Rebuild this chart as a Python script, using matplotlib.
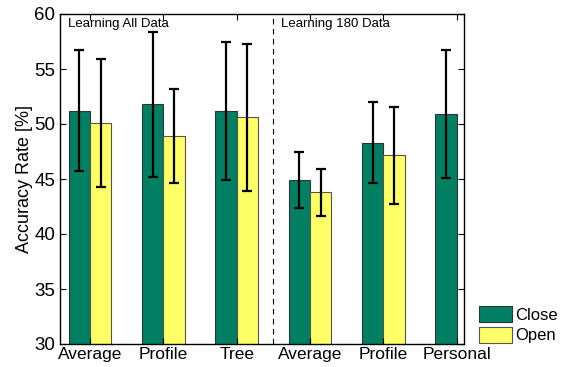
import matplotlib
matplotlib.use("Agg")
import matplotlib.pyplot as plt
import numpy as np

plt.rcParams['font.family'] = ['Liberation Sans', 'DejaVu Sans']

categories = ["Average", "Profile", "Tree", "Average", "Profile", "Personal"]
close_vals = [51.2, 51.8, 51.2, 44.9, 48.3, 50.9]
close_err = [5.5, 6.6, 6.3, 2.55, 3.7, 5.85]
open_vals = [50.1, 48.9, 50.6, 43.8, 47.15, 0]
open_err = [5.8, 4.3, 6.7, 2.15, 4.4, 0]
series_names = ["Close", "Open"]
group_labels = ["Learning All Data", "Learning 180 Data"]

green = "#007F62"
yellow = "#FFFF66"

fig = plt.figure(figsize=(5.63, 3.67), dpi=100)
ax = fig.add_axes([60/563, 23/367, 404/563, 330/367])

x = np.arange(1, len(categories) + 1)
w = 0.29
n_open = 5
b1 = ax.bar(x - w/2, close_vals, w, color=green, edgecolor="#333333", linewidth=0.8, label=series_names[0])
b2 = ax.bar(x[:n_open] + w/2, open_vals[:n_open], w, color=yellow, edgecolor="#555555", linewidth=0.8, label=series_names[1])
ax.errorbar(x - w/2, close_vals, yerr=close_err, fmt='none', ecolor='black', elinewidth=1.6, capsize=3.5, capthick=1.6)
ax.errorbar(x[:n_open] + w/2, open_vals[:n_open], yerr=open_err[:n_open], fmt='none', ecolor='black', elinewidth=1.6, capsize=3.5, capthick=1.6)

ax.axvline(3.5, color='black', linestyle=(0, (5, 4)), linewidth=0.8)

ax.set_xlim(0.59, 6.1)
ax.set_ylim(30, 60)
ax.set_xticks(x)
ax.set_xticklabels(categories, fontsize=12.5)
ax.set_yticks(np.arange(30, 61, 5))
ax.tick_params(axis='y', labelsize=13.5)
ax.tick_params(direction='in', top=True, right=True, length=4, width=0.8)
ax.tick_params(axis='x', pad=2)
ax.set_ylabel("Accuracy Rate [%]", fontsize=13, labelpad=1)
for s in ax.spines.values():
    s.set_linewidth(1.0)

ax.text(0.70, 59.6, group_labels[0], fontsize=9.5, va='top', ha='left')
ax.text(3.60, 59.6, group_labels[1], fontsize=9.5, va='top', ha='left')

leg = fig.legend(handles=[b1, b2], labels=series_names, loc='lower left',
                 bbox_to_anchor=(477/563, 22/367), frameon=False, fontsize=12,
                 handlelength=2.0, handleheight=1.1, handletextpad=0.2,
                 borderaxespad=0, labelspacing=0.25, borderpad=0.1)

fig.savefig("out.png", dpi=100)
